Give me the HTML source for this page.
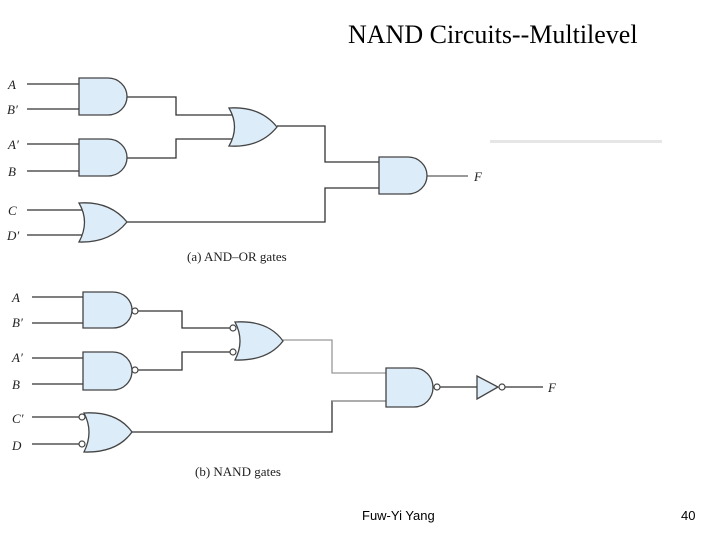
<!DOCTYPE html>
<html><head><style>
body{margin:0;width:720px;height:540px;background:#fff;overflow:hidden;position:relative;font-family:"Liberation Sans",sans-serif}
.t{position:absolute}
</style></head><body>
<div class="t" style="left:348px;top:20px;font-family:'Liberation Serif',serif;font-size:26px">NAND Circuits--Multilevel</div>
<div class="t" style="left:490px;top:140px;width:172px;height:3px;background:#e6e6e6"></div>
<div class="t" style="left:362px;top:508px;font-size:13px">Fuw-Yi Yang</div>
<div class="t" style="left:681px;top:508px;font-size:13px">40</div>
<svg class="t" style="left:0;top:0" width="720" height="540" font-family="Liberation Serif,serif" font-style="italic" font-size="13">
<g stroke="#333" stroke-width="1.3" fill="none">
<path d="M27 84H79M27 109H79M27 144H79M27 171H79M27 210H82M27 235H82"/>
<path d="M127 97H176V115H232M127 158H176V139H232M277 126H325V162H379M127 222H325V188H379"/>
<path d="M427 176H468" stroke-width="1"/>
<path d="M32 297H83M32 323H83M32 358H83M32 384H83M32 417H79M32 444H79"/>
<path d="M138 311H182V328H230M138 370H182V352H230M132 432H332V401H386"/>
<path d="M283 340H332V373H386" stroke="#999"/>
<path d="M332 401H386" stroke="#999"/>
<path d="M440 387H477M505 387H543"/>
</g>
<g stroke="#444" stroke-width="1.3" fill="#dcecf8">
<path d="M79 78H108A19 18.5 0 0 1 108 115H79Z"/>
<path d="M79 139H108A19 18.5 0 0 1 108 176H79Z"/>
<path d="M379 157H408A19 18.5 0 0 1 408 194H379Z"/>
<path d="M229 108Q260 106 277 127Q260 148 229 146Q240 127 229 108Z"/>
<path d="M79 203Q110 201 127 222Q110 243 79 242Q90 222 79 203Z"/>
<path d="M83 292H113A19 18 0 0 1 113 328H83Z"/>
<path d="M83 352H113A19 19 0 0 1 113 390H83Z"/>
<path d="M386 368H414A19 19.5 0 0 1 414 407H386Z"/>
<path d="M235 322Q268 320 283 341Q268 361 235 360Q245 341 235 322Z"/>
<path d="M84 413Q117 411 132 432Q117 453 84 452Q94 432 84 413Z"/>
<path d="M477 376L498 387L477 399Z"/>
</g>
<g stroke="#444" stroke-width="1.2" fill="#fff">
<circle cx="135" cy="311" r="3"/><circle cx="135" cy="370" r="3"/>
<circle cx="233" cy="328" r="3"/><circle cx="233" cy="352" r="3"/>
<circle cx="82" cy="417" r="3"/><circle cx="82" cy="444" r="3"/>
<circle cx="437" cy="387" r="3"/><circle cx="502" cy="387" r="3"/>
</g>
<g fill="#222">
<text x="8" y="89">A</text><text x="7" y="114">B′</text>
<text x="8" y="149">A′</text><text x="8" y="176">B</text>
<text x="8" y="215">C</text><text x="7" y="240">D′</text>
<text x="474" y="181">F</text>
<text x="12" y="302">A</text><text x="12" y="327">B′</text>
<text x="12" y="362">A′</text><text x="12" y="389">B</text>
<text x="12" y="423">C′</text><text x="12" y="450">D</text>
<text x="548" y="392">F</text>
<g font-style="normal" font-size="13">
<text x="187" y="261">(a) AND–OR gates</text>
<text x="195" y="476">(b) NAND gates</text>
</g>
</g>
</svg>
</body></html>
